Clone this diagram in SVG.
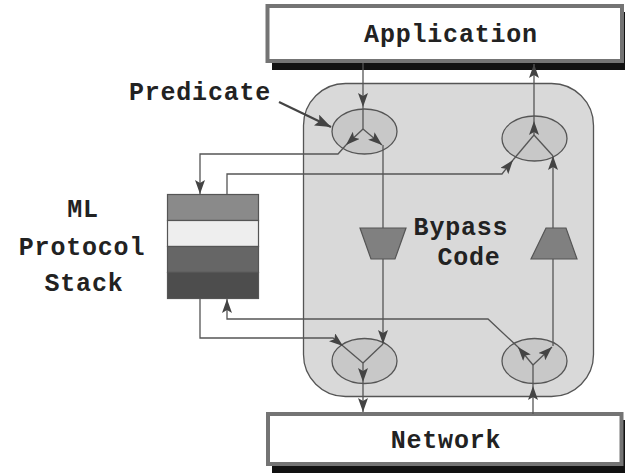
<svg xmlns="http://www.w3.org/2000/svg" width="625" height="473" viewBox="0 0 625 473">
  <style>
    .lbl { font-family: "Liberation Mono", "Courier New", monospace; font-weight: bold; font-size: 25px; letter-spacing: 0.8px; fill: #222; text-anchor: middle; }
    .box { fill: #fff; stroke: #747474; stroke-width: 4; }
    .shadow { fill: #111; }
    .flow { fill: none; stroke: #555; stroke-width: 1.3; }
    .arr { marker-end: url(#ah); }
    .sel { fill: #c8c8c8; stroke: #555; stroke-width: 1.3; }
    .trap { fill: #808080; stroke: #555; stroke-width: 1.2; }
    .layer { stroke: #555; stroke-width: 1.2; }
  </style>
  <defs>
    <marker id="ah" viewBox="0 0 14 10" refX="14" refY="5" markerWidth="14" markerHeight="10" markerUnits="userSpaceOnUse" orient="auto">
      <path d="M0,0 L14,5 L0,10 L3,5 Z" fill="#444"/>
    </marker>
    <marker id="ahBig" viewBox="0 0 16 12" refX="16" refY="6" markerWidth="16" markerHeight="12" markerUnits="userSpaceOnUse" orient="auto">
      <path d="M0,0 L16,6 L0,12 L3,6 Z" fill="#444"/>
    </marker>
  </defs>

  <!-- bypass region -->
  <g id="bypass-region">
    <rect x="303.5" y="83.5" width="290" height="313" rx="42" ry="42" fill="#d9d9d9" stroke="#555" stroke-width="1.3"/>
  </g>

  <!-- application layer -->
  <g id="application">
    <rect class="shadow" x="272" y="12" width="360" height="58"/>
    <rect class="box" x="267.5" y="6" width="354.5" height="55"/>
    <text class="lbl" x="451" y="42">Application</text>
  </g>

  <!-- network layer -->
  <g id="network">
    <rect class="shadow" x="272" y="420" width="360" height="60"/>
    <rect class="box" x="268" y="414" width="353.5" height="50"/>
    <text class="lbl" x="446" y="448">Network</text>
  </g>

  <!-- protocol stack -->
  <g id="ml-stack">
    <rect class="layer" x="167.5" y="194.5" width="91" height="26" fill="#8a8a8a"/>
    <rect class="layer" x="167.5" y="220.5" width="91" height="26" fill="#eeeeee"/>
    <rect class="layer" x="167.5" y="246.5" width="91" height="26" fill="#666666"/>
    <rect class="layer" x="167.5" y="272.5" width="91" height="26" fill="#4d4d4d"/>
  </g>
  <g id="ml-label">
    <text class="lbl" x="83" y="217">ML</text>
    <text class="lbl" x="82" y="255">Protocol</text>
    <text class="lbl" x="84" y="291">Stack</text>
  </g>

  <!-- predicate selectors -->
  <g id="sel-top-left"><ellipse class="sel" cx="364.5" cy="131.5" rx="32.5" ry="22.5"/></g>
  <g id="sel-top-right"><ellipse class="sel" cx="534.5" cy="138.5" rx="32.5" ry="22.5"/></g>
  <g id="sel-bottom-left"><ellipse class="sel" cx="364.5" cy="361" rx="32.5" ry="22.5"/></g>
  <g id="sel-bottom-right"><ellipse class="sel" cx="534.5" cy="361" rx="32.5" ry="22.5"/></g>

  <!-- connectors -->
  <g id="connectors">
    <!-- application down into the top-left selector -->
    <path class="flow arr" d="M363,63 V107"/>
    <path class="flow" d="M363,107 V129"/>
    <path class="flow arr" d="M363,129 L346,145"/>
    <path class="flow arr" d="M363,129 L382,145"/>
    <!-- to the stack -->
    <path class="flow arr" d="M346,145 L338,154 H200 V194"/>
    <!-- through the downward bypass -->
    <path class="flow arr" d="M383,145 V344"/>
    <path class="flow" d="M383,344 L363,363"/>
    <!-- stack out to the top-right selector -->
    <path class="flow arr" d="M227,194 V174 H502 L513,160"/>
    <path class="flow" d="M513,160 L534,135"/>
    <path class="flow arr" d="M534,135 V121"/>
    <path class="flow arr" d="M534,121 V64"/>
    <!-- stack out to the bottom-left selector -->
    <path class="flow arr" d="M200,298.5 V338 H333 L343,346"/>
    <path class="flow" d="M343,346 L363,363"/>
    <path class="flow arr" d="M363,363 V382"/>
    <path class="flow arr" d="M363,382 V412"/>
    <!-- network up into the bottom-right selector -->
    <path class="flow arr" d="M533,414 V386"/>
    <path class="flow" d="M533,386 V365"/>
    <path class="flow arr" d="M533,365 L518,347"/>
    <path class="flow arr" d="M533,365 L552,347"/>
    <path class="flow arr" d="M518,347 L488,319 H227 V299"/>
    <!-- through the upward bypass -->
    <path class="flow arr" d="M553,346 V156"/>
    <path class="flow" d="M553,156 L534,135"/>
    <!-- predicate pointer -->
    <path d="M279,102 L331,127" fill="none" stroke="#444" stroke-width="2.2" marker-end="url(#ahBig)"/>
  </g>

  <!-- bypass code filters, drawn over the paths they sit on -->
  <g id="bypass-down"><polygon class="trap" points="360,228 406,228 395,259 371,259"/></g>
  <g id="bypass-up"><polygon class="trap" points="546,228 566,228 577,259 531,259"/></g>
  <g id="bypass-label">
    <text class="lbl" x="461" y="235">Bypass</text>
    <text class="lbl" x="469" y="265">Code</text>
  </g>

  <g id="predicate-label">
    <text class="lbl" x="200" y="100">Predicate</text>
  </g>
</svg>
